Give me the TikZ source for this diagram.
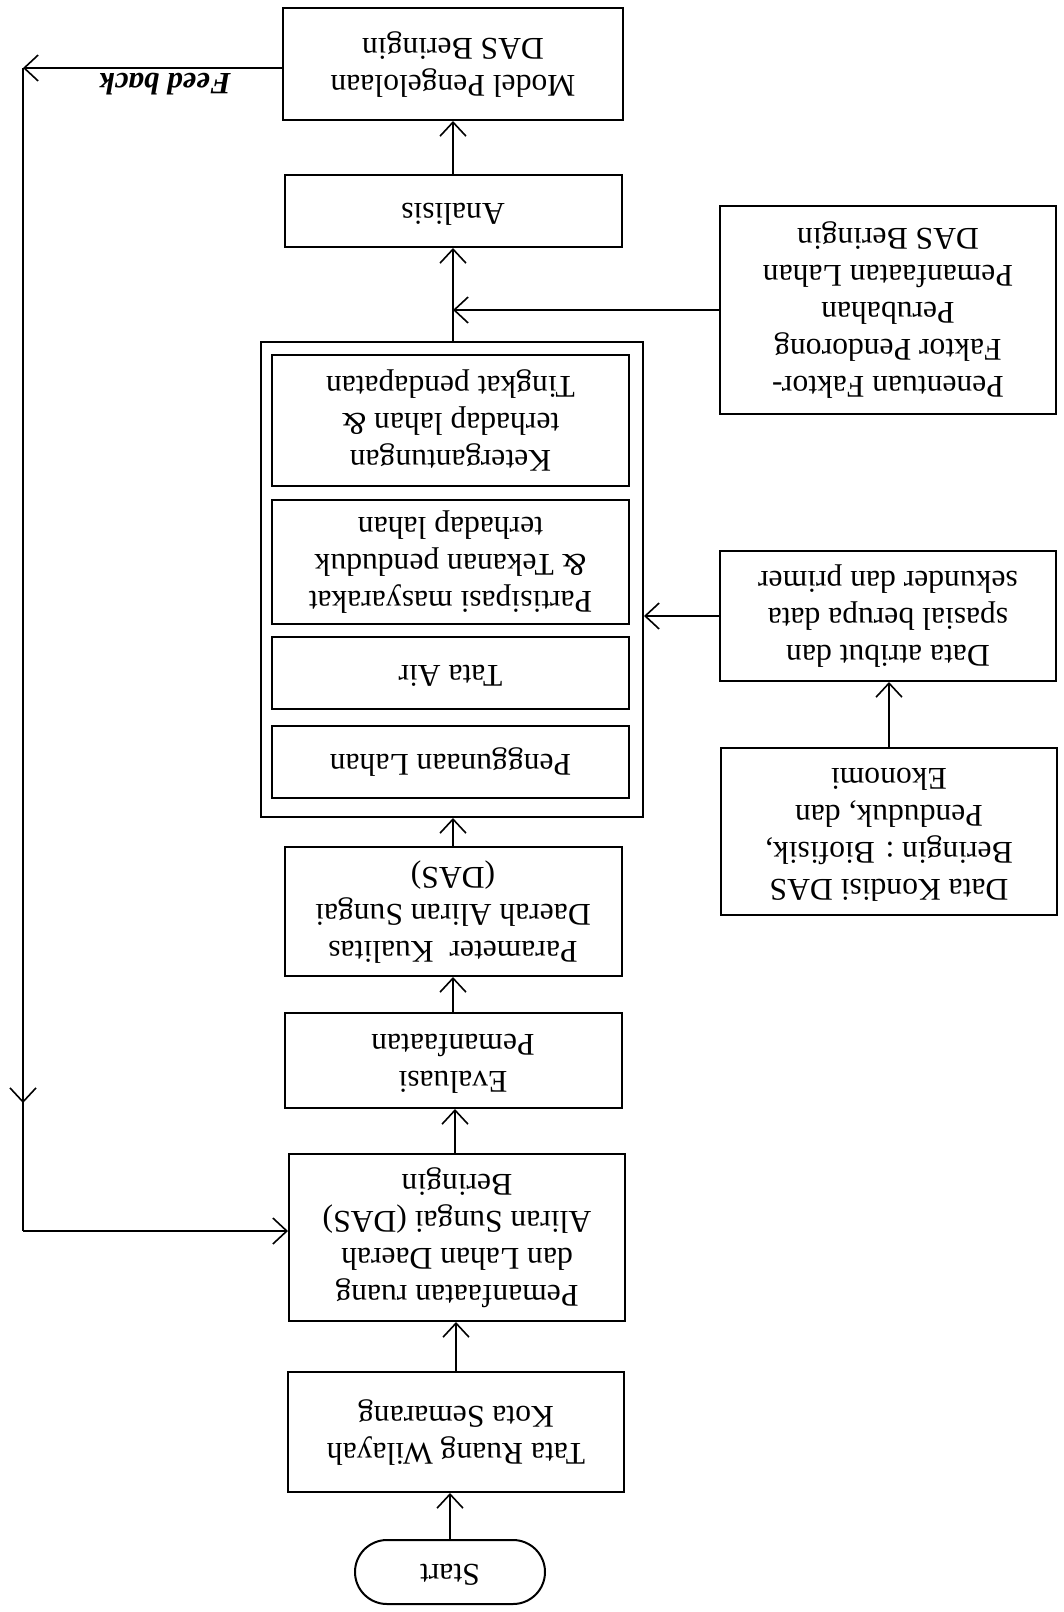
\documentclass[tikz,border=0pt]{standalone}
\usepackage{fontspec}
\setmainfont{Liberation Serif}
\usepackage{graphicx}
\usetikzlibrary{arrows.meta,decorations.markings}
\newcommand{\flipt}[1]{\rotatebox{180}{\begin{tabular}{@{}c@{}}#1\end{tabular}}}
\begin{document}
\begin{tikzpicture}[x=0.5pt,y=-0.5pt,
  box/.style={draw, line width=1pt, inner sep=0pt, font=\fontsize{15.8}{18.5}\selectfont},
  conn/.style={line width=0.8pt, -{Straight Barb[length=7pt,width=13pt]}},
  plain/.style={line width=0.8pt},
]
\useasboundingbox (0,0) rectangle (1064,1612);
% main column
\node[box, minimum width=170pt, minimum height=56pt] (model) at (453,64) {\flipt{Model Pengelolaan\\DAS Beringin}};
\node[box, minimum width=168.5pt, minimum height=36pt] (anal) at (453,211) {\flipt{Analisis}};
\node[box, minimum width=191pt, minimum height=237.5pt] (grp) at (452,579.5) {};
\node[box, minimum width=178.5pt, minimum height=65.5pt] (keter) at (450.5,420.5) {\flipt{Ketergantungan\\terhadap lahan \&\\Tingkat pendapatan}};
\node[box, minimum width=178.5pt, minimum height=62pt] (partis) at (450.5,562) {\flipt{Partisipasi masyarakat\\\& Tekanan penduduk\\terhadap lahan}};
\node[box, minimum width=178.5pt, minimum height=36pt] (tair) at (450.5,673) {\flipt{Tata Air}};
\node[box, minimum width=178.5pt, minimum height=36pt] (guna) at (450.5,762) {\flipt{Penggunaan Lahan}};
\node[box, minimum width=168.5pt, minimum height=64.5pt] (param) at (453,911.5) {\flipt{Parameter\ \ Kualitas\\Daerah Aliran Sungai\\(DAS)}};
\node[box, minimum width=168.5pt, minimum height=47.5pt] (eval) at (453,1060.5) {\flipt{Evaluasi\\Pemanfaatan}};
\node[box, minimum width=168pt, minimum height=83.5pt] (pman) at (457,1237.5) {\flipt{Pemanfaatan ruang\\dan Lahan Daerah\\Aliran Sungai (DAS)\\Beringin}};
\node[box, minimum width=168pt, minimum height=60pt] (truang) at (456,1432) {\flipt{Tata Ruang Wilayah\\Kota Semarang}};
\node[box, rounded corners=16pt, minimum width=95pt, minimum height=32pt] (start) at (450,1572) {\flipt{Start}};
% right column
\node[box, minimum width=168pt, minimum height=104pt] (tentu) at (888,310) {\flipt{Penentuan Faktor-\\Faktor Pendorong\\Perubahan\\Pemanfaatan Lahan\\DAS Beringin}};
\node[box, minimum width=168pt, minimum height=65pt] (atr) at (888,616) {\flipt{Data atribut dan\\spasial berupa data\\sekunder dan primer}};
\node[box, minimum width=168pt, minimum height=83.5pt] (kond) at (889,831.5) {\flipt{Data Kondisi DAS\\Beringin : Biofisik,\\Penduduk, dan\\Ekonomi}};
% feedback
\coordinate (fbTop) at (23,68);
\coordinate (fbBot) at (23,1231);
\node[font=\bfseries\itshape\fontsize{15.5}{18}\selectfont, inner sep=0pt] (fb) at (165,84) {\rotatebox{180}{Feed back}};
% connectors
\draw[conn] (start.north) -- (start.north |- truang.south);
\draw[conn] (truang.north) -- (truang.north |- pman.south);
\draw[conn] ([xshift=-1pt]pman.north) -- ([xshift=-1pt]pman.north |- eval.south);
\draw[conn] (eval.north) -- (eval.north |- param.south);
\draw[conn] (param.north) -- (param.north |- grp.south);
\draw[conn] (anal.south |- grp.north) -- (anal.south);
\draw[conn] (anal.north) -- (model.south);
\draw[conn] (tentu.west) -- (tentu.west -| anal.south);
\draw[conn] (atr.west) -- (atr.west -| grp.east);
\draw[conn] (kond.north) -- (kond.north |- atr.south);
\draw[conn] (model.west |- fbTop) -- (fbTop);
\draw[plain, postaction={decorate}, decoration={markings, mark=at position 0.89 with {\arrow{Straight Barb[length=7pt,width=13pt]}}}] (fbTop) -- (fbBot);
\draw[conn] (fbBot) -- (fbBot -| pman.west);
\end{tikzpicture}
\end{document}
